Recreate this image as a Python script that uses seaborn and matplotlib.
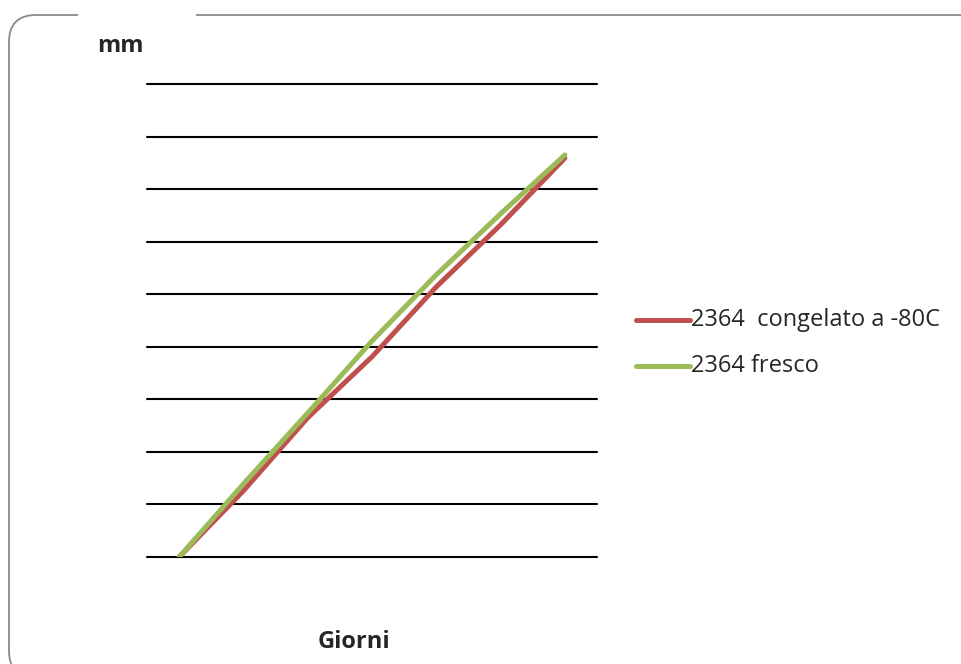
import matplotlib
matplotlib.use("Agg")
import matplotlib.pyplot as plt
from matplotlib.patches import FancyBboxPatch, Rectangle
from matplotlib.transforms import IdentityTransform
import seaborn as sns
import pandas as pd

# Daily growth (mm) of the two 2364 samples
giorni = [1, 2, 3, 4, 5, 6, 7]
congelato = [0.0, 1.26, 2.65, 3.81, 5.14, 6.32, 7.59]
fresco = [0.0, 1.39, 2.74, 4.11, 5.37, 6.53, 7.65]
serie = ["2364  congelato a -80C", "2364 fresco"]
colori = ["#C0504D", "#9BBB59"]

df = pd.DataFrame({
    "Giorni": giorni * 2,
    "mm": congelato + fresco,
    "serie": [serie[0]] * len(giorni) + [serie[1]] * len(giorni),
})

sns.set_theme(style="white")
plt.rcParams["font.family"] = ["Open Sans", "DejaVu Sans"]

W, H = 962, 664
fig = plt.figure(figsize=(W / 100, H / 100), dpi=100)
fig.patch.set_facecolor("white")

# rounded chart-area frame (pixel coordinates), running past right/bottom edges
fx0, fy_top, fx1, fy_bot = 9, 15, 990, 678
frame = FancyBboxPatch((fx0, H - fy_bot), fx1 - fx0, fy_bot - fy_top,
                       boxstyle="round,pad=0,rounding_size=27",
                       transform=IdentityTransform(), facecolor="none",
                       edgecolor="#8a8a8a", linewidth=1.3, clip_on=False)
fig.patches.append(frame)
gap = Rectangle((78, H - fy_top - 5), 196 - 78, 10, transform=IdentityTransform(),
                facecolor="white", edgecolor="none", zorder=3)
fig.patches.append(gap)

left, right, top, bottom = 147, 597, 84, 557
ax = fig.add_axes([left / W, 1 - bottom / H, (right - left) / W, (bottom - top) / H])
ax.set_facecolor("none")

sns.lineplot(data=df, x="Giorni", y="mm", hue="serie", palette=colori,
             hue_order=serie, linewidth=3.6, ax=ax, legend=False,
             solid_capstyle="round", zorder=3)

ax.set_xlim(0.5, 7.5)
ax.set_ylim(0, 9)
ax.set_yticks(range(0, 10))
ax.set_xticks([])
ax.tick_params(left=False, bottom=False, labelleft=False, labelbottom=False)
ax.grid(axis="y", color="black", linewidth=1.5)
ax.grid(axis="x", visible=False)
for gl in ax.get_ygridlines():
    gl.set_clip_on(False)
for s in ax.spines.values():
    s.set_visible(False)
ax.set_xlabel("")
ax.set_ylabel("")

# axis titles
fig.text(97 / W, 1 - 46 / H, "mm", fontsize=17, fontweight="bold",
         va="center", ha="left")
fig.text(354 / W, 1 - 642 / H, "Giorni", fontsize=17, fontweight="bold",
         va="center", ha="center")

# legend
for i, (lab, col) in enumerate(zip(serie, colori)):
    y = 320 + i * 46
    fig.add_artist(plt.Line2D([636 / W, 690 / W], [1 - y / H, 1 - y / H],
                              color=col, linewidth=3.6, solid_capstyle="round",
                              transform=fig.transFigure))
    fig.text(691 / W, 1 - y / H, lab, fontsize=17, va="center", ha="left")

fig.savefig("out.png", dpi=100, facecolor="white")
